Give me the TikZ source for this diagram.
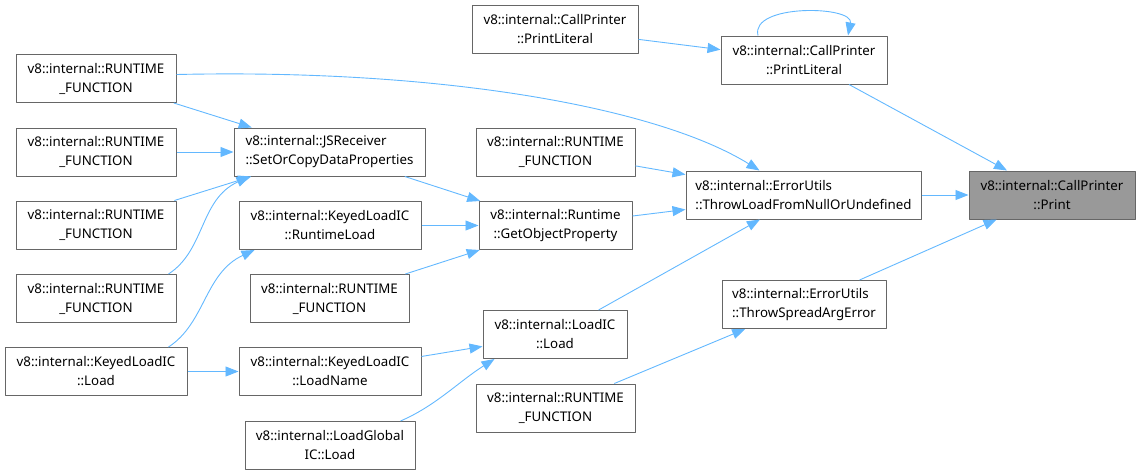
\documentclass[tikz,border=0pt]{standalone}
\usepackage{fontspec}
\setmainfont{Noto Sans}
\usetikzlibrary{arrows.meta,calc}
\definecolor{calledgeblue}{RGB}{99,184,255}
\definecolor{boxgrey}{RGB}{102,102,102}
\definecolor{currentgrey}{RGB}{153,153,153}

\begin{document}
\begin{tikzpicture}[x=1pt,y=-1pt,>={Triangle[length=13pt,width=10pt]},line join=round,
 fnbox/.style={draw=boxgrey,line width=1pt,fill=white,minimum height=48pt,inner sep=2pt,
  font=\fontsize{13.3}{19}\selectfont,align=center},
 fnboxl/.style={fnbox,align=left},
 call/.style={->,calledgeblue,line width=0.9pt}]
 \useasboundingbox (0,0) rectangle (1140,475);
 % right part
 \node[fnbox,minimum width=166pt,fill=currentgrey] (print) at (1052,195) {v8::internal::CallPrinter\\::Print};
 \node[fnbox,minimum width=166pt] (plit) at (804,60) {v8::internal::CallPrinter\\::PrintLiteral};
 \node[fnbox,minimum width=166pt] (plitcaller) at (555,29) {v8::internal::CallPrinter\\::PrintLiteral};
 \node[fnboxl,minimum width=235pt] (throwload) at (803.5,195) {v8::internal::ErrorUtils\\::ThrowLoadFromNullOrUndefined};
 \node[fnboxl,minimum width=164pt] (throwspread) at (804,304.5) {v8::internal::ErrorUtils\\::ThrowSpreadArgError};
 % third column
 \node[fnbox,minimum width=159pt] (rfthrow) at (555.5,152) {v8::internal::RUNTIME\\\_FUNCTION};
 \node[fnbox,minimum width=153pt] (getprop) at (555.5,225.5) {v8::internal::Runtime\\::GetObjectProperty};
 \node[fnbox,minimum width=144pt] (loadic) at (555,334.5) {v8::internal::LoadIC\\::Load};
 \node[fnbox,minimum width=159pt] (rfspread) at (555.5,408) {v8::internal::RUNTIME\\\_FUNCTION};
 % second column
 \node[fnboxl,minimum width=191pt] (setcopy) at (329.5,152) {v8::internal::JSReceiver\\::SetOrCopyDataProperties};
 \node[fnbox,minimum width=182pt] (rtload) at (330,225.5) {v8::internal::KeyedLoadIC\\::RuntimeLoad};
 \node[fnbox,minimum width=159pt] (rfprop) at (329.5,298.5) {v8::internal::RUNTIME\\\_FUNCTION};
 \node[fnbox,minimum width=182pt] (loadname) at (330,371.5) {v8::internal::KeyedLoadIC\\::LoadName};
 \node[fnbox,minimum width=170pt] (globalload) at (330,445.5) {v8::internal::LoadGlobal\\IC::Load};
 % first column
 \node[fnbox,minimum width=160pt] (rfa) at (96,78.5) {v8::internal::RUNTIME\\\_FUNCTION};
 \node[fnbox,minimum width=160pt] (rfb) at (96,152) {v8::internal::RUNTIME\\\_FUNCTION};
 \node[fnbox,minimum width=160pt] (rfc) at (96,225) {v8::internal::RUNTIME\\\_FUNCTION};
 \node[fnbox,minimum width=160pt] (rfd) at (96,298.5) {v8::internal::RUNTIME\\\_FUNCTION};
 \node[fnbox,minimum width=182pt] (keyedload) at (96,371.5) {v8::internal::KeyedLoadIC\\::Load};
 % calls
 \draw[call] (plitcaller) -- (plit);
 \draw[call] ([xshift=-46pt]plit.north) .. controls +(-8,-32) and +(6,-30) .. ([xshift=44pt]plit.north);
 \draw[call] (plit) -- (print);
 \draw[call] (throwload) -- (print);
 \draw[call] (throwspread) -- (print);
 \draw[call] ([yshift=4pt]rfa.east) .. controls +(270,-6) and +(-100,-62) .. ([xshift=-44pt]throwload.north);
 \draw[call] (rfthrow) -- (throwload);
 \draw[call] (getprop) -- (throwload);
 \draw[call] (loadic) -- (throwload);
 \draw[call] (rfspread) -- (throwspread);
 \draw[call] (rfa) -- (setcopy);
 \draw[call] (rfb) -- (setcopy);
 \draw[call] (rfc) -- (setcopy);
 \draw[call] ([xshift=-8pt]rfd.north east) .. controls +(37,-24) and +(-50,23) .. ([xshift=16pt]setcopy.south west);
 \draw[call] ([xshift=-19pt]keyedload.north east) .. controls +(37,-24) and +(-50,23) .. ([xshift=16pt]rtload.south west);
 \draw[call] (keyedload) -- (loadname);
 \draw[call] (setcopy) -- (getprop);
 \draw[call] (rtload) -- (getprop);
 \draw[call] (rfprop) -- (getprop);
 \draw[call] (loadname) -- (loadic);
 \draw[call] ([xshift=-15pt]globalload.north east) .. controls +(35,-15) and +(-35,22) .. ([xshift=12pt]loadic.south west);
\end{tikzpicture}
\end{document}
